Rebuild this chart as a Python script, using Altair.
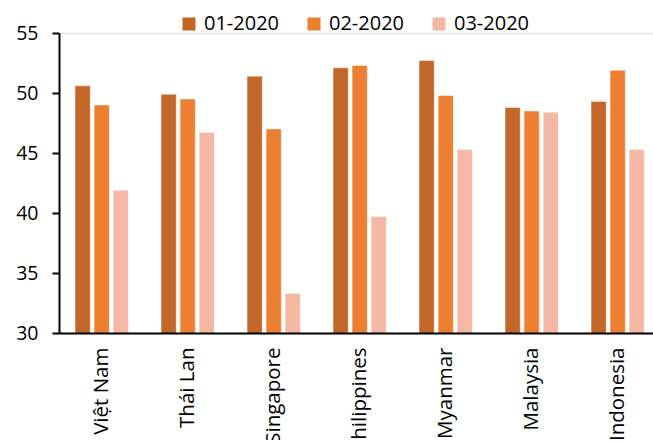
import altair as alt
import pandas as pd

countries = ["Việt Nam", "Thái Lan", "Singapore", "Philippines", "Myanmar", "Malaysia", "Indonesia"]
months = ["01-2020", "02-2020", "03-2020"]
pmi_jan = [50.6, 49.9, 51.4, 52.1, 52.7, 48.8, 49.3]
pmi_feb = [49.0, 49.5, 47.0, 52.3, 49.8, 48.5, 51.9]
pmi_mar = [41.9, 46.7, 33.3, 39.7, 45.3, 48.4, 45.3]
colors = ["#C3662A", "#ED7F32", "#F4B8A5"]

rows = []
for month, series in zip(months, [pmi_jan, pmi_feb, pmi_mar]):
    for country, value in zip(countries, series):
        rows.append({"country": country, "month": month, "value": value})
df = pd.DataFrame(rows)

FONT = "Open Sans"

chart = (
    alt.Chart(df)
    .mark_bar(clip=True, stroke="white", strokeWidth=0.8, strokeOpacity=0.6)
    .encode(
        x=alt.X(
            "country:N",
            sort=countries,
            title=None,
            scale=alt.Scale(paddingInner=0.38, paddingOuter=0.1435, align=0.65),
            axis=alt.Axis(
                labelAngle=-90,
                ticks=False,
                labelPadding=14,
                labelFontSize=20.5,
                labelColor="black",
                labelFont=FONT,
                domainColor="black",
                domainWidth=2,
                zindex=1,
            ),
        ),
        xOffset=alt.XOffset("month:N", sort=months, scale=alt.Scale(paddingInner=0.2)),
        y=alt.Y(
            "value:Q",
            title=None,
            scale=alt.Scale(domain=[30, 55], nice=False, zero=False),
            axis=alt.Axis(
                values=[30, 35, 40, 45, 50, 55],
                grid=False,
                tickSize=7,
                tickWidth=2,
                tickColor="black",
                domainColor="black",
                domainWidth=2,
                labelPadding=14,
                labelFontSize=19.5,
                labelColor="black",
                labelFont=FONT,
                zindex=1,
            ),
        ),
        color=alt.Color(
            "month:N",
            sort=months,
            scale=alt.Scale(domain=months, range=colors),
            legend=alt.Legend(
                title=None,
                orient="none",
                direction="horizontal",
                legendX=120,
                legendY=-19,
                padding=0,
                symbolType="square",
                symbolSize=169,
                symbolStrokeWidth=0,
                labelOffset=5,
                columnPadding=24,
                labelFontSize=20,
                labelColor="black",
                labelFont=FONT,
            ),
        ),
    )
    .properties(
        width=594,
        height=300,
        autosize=alt.AutoSizeParams(type="none"),
        padding={"left": 59, "top": 33, "right": 0, "bottom": 107},
    )
    .configure_view(stroke=None)
    .configure(background="white")
)

chart.save("out.html", embed_options={"renderer": "svg", "actions": False})
